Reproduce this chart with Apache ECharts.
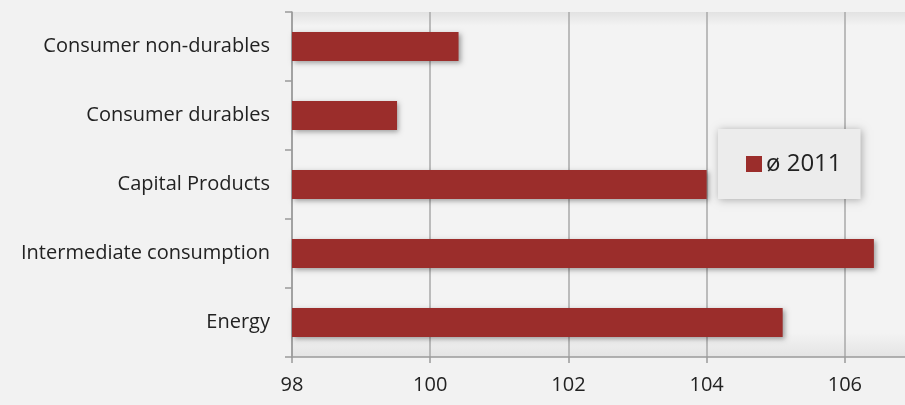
<!DOCTYPE html>
<html lang="en">

<head>
    <meta charset="utf-8">
    <title>index</title>
    <style>
        html, body { margin: 0; padding: 0; background: #f2f2f2; }
    </style>
</head>

<body>
    <div id="main" style="width: 905px;height:405px;"></div>
    <script src="https://cdn.jsdelivr.net/npm/echarts@6/dist/echarts.min.js"></script>

    <script>
        // 数据
        var categories = ['Energy', 'Intermediate consumption', 'Capital Products', 'Consumer durables', 'Consumer non-durables'];
        var values2011 = [105.1, 106.42, 104.0, 99.52, 100.41];
        var seriesName = 'ø 2011';
        var xTicks = [98, 100, 102, 104, 106];

        var myChart = echarts.init(document.getElementById('main'));
        var font = '"Open Sans", "Liberation Sans", sans-serif';

        var option = {
            backgroundColor: '#f2f2f2',
            animation: false,
            grid: {
                left: 292,
                top: 12,
                right: 0,
                bottom: 48,
                show: true,
                borderWidth: 0,
                // 绘图区边缘的阴影感
                backgroundColor: {
                    type: 'linear', x: 0, y: 0, x2: 0, y2: 1,
                    colorStops: [
                        { offset: 0, color: '#e2e2e2' },
                        { offset: 0.04, color: '#f3f3f3' },
                        { offset: 0.93, color: '#f3f3f3' },
                        { offset: 1, color: '#e4e4e4' }
                    ]
                }
            },
            legend: {
                left: 718,
                top: 129,
                padding: [23, 19, 23, 28],
                backgroundColor: '#ececec',
                shadowBlur: 8,
                shadowColor: 'rgba(0,0,0,0.3)',
                shadowOffsetX: 1,
                shadowOffsetY: 1,
                icon: 'rect',
                itemWidth: 16,
                itemHeight: 16,
                itemGap: 6,
                textStyle: {
                    fontFamily: font,
                    fontSize: 24,
                    color: '#222',
                    lineHeight: 24,
                    padding: [0, 0, 0, -1]
                },
                data: [seriesName]
            },
            xAxis: {
                type: 'value',
                min: 98,
                max: 106.87,
                interval: 2,
                axisLine: { show: true, lineStyle: { color: '#9a9a9a', width: 1.5 } },
                axisTick: { show: true, customValues: xTicks, length: 6, lineStyle: { color: '#9a9a9a', width: 1.5 } },
                axisLabel: {
                    customValues: xTicks,
                    margin: 18,
                    fontFamily: font,
                    fontSize: 20,
                    color: '#222'
                },
                splitLine: { show: true, lineStyle: { color: '#a8a8a8', width: 1.5 } }
            },
            yAxis: {
                type: 'category',
                data: categories,
                axisLine: { show: true, lineStyle: { color: '#9a9a9a', width: 1.5 } },
                axisTick: { show: true, length: 7, lineStyle: { color: '#9a9a9a', width: 1.5 } },
                axisLabel: {
                    margin: 22,
                    fontFamily: font,
                    fontSize: 20,
                    color: '#222'
                },
                splitLine: { show: false }
            },
            series: [{
                name: seriesName,
                type: 'bar',
                data: values2011,
                barWidth: 29,
                itemStyle: {
                    color: '#9b2d2b',
                    shadowBlur: 5,
                    shadowColor: 'rgba(0,0,0,0.35)',
                    shadowOffsetX: 2,
                    shadowOffsetY: 2
                }
            }]
        };

        myChart.setOption(option);
    </script>
</body>

</html>
